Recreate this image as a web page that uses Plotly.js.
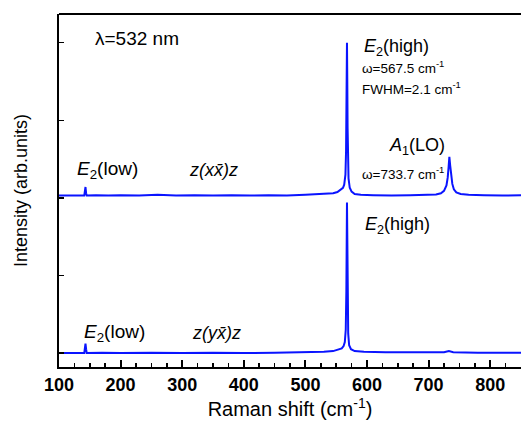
<!DOCTYPE html>
<html>
<head>
<meta charset="utf-8">
<script src="https://cdn.plot.ly/plotly-3.0.1.min.js"></script>
<style>html,body{margin:0;padding:0;background:#fff;}#chart{width:521px;height:423px;}</style>
</head>
<body>
<div id="chart"></div>
<script>
// z(x x̄)z spectrum (offset upward)
var ramanXX = [100,120,135,141,142,143,144,145,160,180,200,230,260,290,320,350,380,410,440,470,500,520,535,545,552,557,561,563,565,566,567,567.5,568,568.5,569,570,572,575,580,590,610,640,670,700,712,720,725,729,731,732.5,733.7,735,736.5,738.5,741,745,752,765,790,820,850];
var intensityXX = [2.03,2.035,2.03,2.03,2.09,2.14,2.06,2.03,2.035,2.03,2.035,2.03,2.04,2.03,2.035,2.03,2.035,2.03,2.035,2.03,2.04,2.045,2.05,2.06,2.075,2.1,2.13,2.17,2.3,2.6,3.4,4.0,3.5,2.9,2.5,2.25,2.13,2.08,2.05,2.04,2.035,2.03,2.035,2.04,2.045,2.06,2.09,2.16,2.26,2.4,2.53,2.42,2.3,2.18,2.11,2.07,2.05,2.04,2.035,2.03,2.035];
// z(y x̄)z spectrum
var ramanYX = [100,130,141,142,143,144,145,170,200,250,300,350,400,450,500,530,545,553,559,562,564,565.5,566.5,567.5,568.5,569.5,571,574,580,595,630,680,725,733,740,780,850];
var intensityYX = [0.0,0.005,0.0,0.06,0.12,0.05,0.0,0.005,0.0,0.005,0.0,0.005,0.0,0.005,0.01,0.015,0.025,0.04,0.06,0.09,0.14,0.3,0.8,1.94,0.7,0.25,0.1,0.05,0.025,0.015,0.01,0.005,0.01,0.025,0.01,0.005,0.005];

var xTickVals = [100,200,300,400,500,600,700,800];
var xTickText = ['100','200','300','400','500','600','700','800'];

var labelTexts = ['λ=532 nm','<i>E</i><sub>2</sub>(high)','ω=567.5 cm<sup>-1</sup>','FWHM=2.1 cm<sup>-1</sup>','<i>A</i><sub>1</sub>(LO)','ω=733.7 cm<sup>-1</sup>','<i>E</i><sub>2</sub>(low)','<i>z(xx̄)z</i>','<i>E</i><sub>2</sub>(high)','<i>E</i><sub>2</sub>(low)','<i>z(yx̄)z</i>'];
var labelX = [155,592,588.6,588.6,632.5,588.6,126,307.8,593.5,137.3,312.7];
var labelY = [4.05,3.94,3.69,3.42,2.66,2.32,2.36,2.36,1.65,0.26,0.26];
var labelSize = [19,18,13.5,13.5,18,13.5,19,18,18,19,18];

var FONT = '"Liberation Sans", Arial, sans-serif';
var blue = '#0a14ff';

var traces = [
  {x: ramanXX, y: intensityXX, type: 'scatter', mode: 'lines', line: {color: blue, width: 2}, showlegend: false, hoverinfo: 'skip'},
  {x: ramanYX, y: intensityYX, type: 'scatter', mode: 'lines', line: {color: blue, width: 2}, showlegend: false, hoverinfo: 'skip'}
];

var annotations = labelTexts.map(function(t, i) {
  return {text: t, x: labelX[i], y: labelY[i], xref: 'x', yref: 'y', xanchor: 'left', yanchor: 'middle', showarrow: false,
          font: {family: FONT, size: labelSize[i], color: '#000'}};
});

var layout = {
  width: 521, height: 423,
  margin: {l: 59, r: 0, t: 14, b: 56},
  paper_bgcolor: '#fff', plot_bgcolor: '#fff',
  font: {family: FONT, color: '#000'},
  xaxis: {
    range: [100, 850], showgrid: false, zeroline: false,
    showline: true, linecolor: '#000', linewidth: 2, mirror: false,
    ticks: 'inside', ticklen: 7, tickwidth: 2, tickcolor: '#000',
    tickvals: xTickVals, ticktext: xTickText,
    tickfont: {family: FONT, size: 18, color: '#000', weight: 'bold'},
    minor: {dtick: 25, tick0: 100, ticks: 'inside', ticklen: 4, tickwidth: 1.5, tickcolor: '#000', showgrid: false},
    title: {text: 'Raman shift (cm<sup>-1</sup>)', font: {family: FONT, size: 20, color: '#000'}, standoff: 7}
  },
  yaxis: {
    range: [-0.18, 4.37], showgrid: false, zeroline: false,
    showline: true, linecolor: '#000', linewidth: 2, mirror: false,
    ticks: 'inside', ticklen: 5, tickwidth: 1.5, tickcolor: '#000',
    tick0: 0, dtick: 1, showticklabels: false,
    title: {text: 'Intensity (arb.units)', font: {family: FONT, size: 18, color: '#000'}, standoff: 25}
  },
  shapes: [
    {type: 'line', xref: 'paper', yref: 'paper', x0: 0, x1: 1, y0: 1, y1: 1, line: {color: '#000', width: 2}}
  ],
  annotations: annotations
};

Plotly.newPlot('chart', traces, layout, {staticPlot: true, displayModeBar: false});
</script>
</body>
</html>
